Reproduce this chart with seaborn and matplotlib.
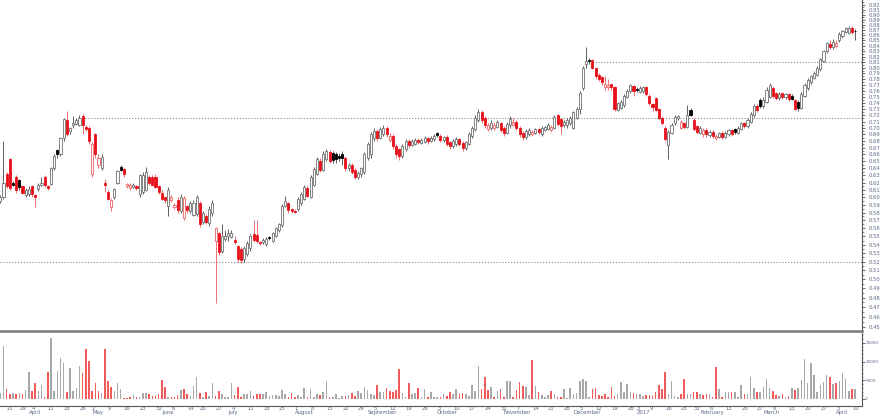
import numpy as np
import pandas as pd
import matplotlib
matplotlib.use("Agg")
import matplotlib.pyplot as plt
from matplotlib.ticker import FixedLocator, FixedFormatter, NullFormatter
import seaborn as sns

# daily bars, 17 Mar 2016 - 11 Apr 2017 (ASX trading days)
opens = [
    0.595, 0.600, 0.632, 0.653, 0.620, 0.628, 0.623, 0.615, 0.603, 0.604,
    0.615, 0.603, 0.611, 0.617, 0.627, 0.615, 0.618, 0.641, 0.666, 0.660,
    0.684, 0.713, 0.695, 0.705, 0.706, 0.705, 0.718, 0.702, 0.700, 0.632,
    0.690, 0.644, 0.641, 0.620, 0.607, 0.587, 0.601, 0.620, 0.642, 0.639,
    0.615, 0.613, 0.614, 0.615, 0.604, 0.607, 0.610, 0.628, 0.627, 0.628,
    0.615, 0.606, 0.600, 0.588, 0.596, 0.587, 0.597, 0.582, 0.573, 0.588,
    0.582, 0.577, 0.578, 0.592, 0.568, 0.575, 0.567, 0.579, 0.545, 0.554,
    0.533, 0.547, 0.551, 0.549, 0.546, 0.538, 0.535, 0.523, 0.529, 0.536,
    0.553, 0.552, 0.543, 0.543, 0.541, 0.549, 0.545, 0.551, 0.558, 0.564,
    0.589, 0.592, 0.584, 0.582, 0.585, 0.592, 0.598, 0.612, 0.601, 0.617,
    0.632, 0.650, 0.638, 0.653, 0.664, 0.662, 0.660, 0.658, 0.660, 0.655,
    0.640, 0.645, 0.637, 0.628, 0.632, 0.635, 0.655, 0.660, 0.685, 0.695,
    0.685, 0.690, 0.700, 0.682, 0.688, 0.672, 0.668, 0.658, 0.668, 0.680,
    0.674, 0.676, 0.682, 0.677, 0.679, 0.684, 0.680, 0.683, 0.692, 0.688,
    0.681, 0.686, 0.678, 0.672, 0.675, 0.683, 0.677, 0.670, 0.676, 0.688,
    0.698, 0.712, 0.725, 0.716, 0.698, 0.700, 0.700, 0.702, 0.708, 0.700,
    0.692, 0.704, 0.705, 0.710, 0.700, 0.692, 0.686, 0.690, 0.690, 0.692,
    0.698, 0.690, 0.697, 0.698, 0.696, 0.700, 0.720, 0.714, 0.704, 0.704,
    0.708, 0.700, 0.716, 0.730, 0.765, 0.806, 0.814, 0.814, 0.800, 0.788,
    0.784, 0.767, 0.767, 0.772, 0.766, 0.729, 0.732, 0.736, 0.750, 0.760,
    0.768, 0.764, 0.758, 0.760, 0.766, 0.752, 0.738, 0.748, 0.730, 0.716,
    0.700, 0.674, 0.692, 0.707, 0.715, 0.700, 0.708, 0.702, 0.729, 0.713,
    0.703, 0.692, 0.690, 0.697, 0.689, 0.694, 0.684, 0.686, 0.692, 0.686,
    0.690, 0.696, 0.698, 0.692, 0.698, 0.708, 0.703, 0.710, 0.720, 0.735,
    0.745, 0.735, 0.742, 0.750, 0.765, 0.756, 0.748, 0.756, 0.749, 0.754,
    0.752, 0.745, 0.742, 0.732, 0.752, 0.765, 0.775, 0.782, 0.788, 0.798,
    0.812, 0.830, 0.843, 0.838, 0.840, 0.850, 0.858, 0.866, 0.865, 0.874,
    0.869,
]
highs = [
    0.603, 0.680, 0.635, 0.655, 0.622, 0.630, 0.625, 0.617, 0.613, 0.615,
    0.617, 0.604, 0.620, 0.628, 0.630, 0.617, 0.642, 0.660, 0.668, 0.686,
    0.716, 0.726, 0.702, 0.718, 0.716, 0.720, 0.722, 0.705, 0.703, 0.678,
    0.692, 0.660, 0.660, 0.625, 0.610, 0.599, 0.613, 0.638, 0.645, 0.641,
    0.620, 0.620, 0.619, 0.617, 0.632, 0.635, 0.642, 0.630, 0.630, 0.632,
    0.617, 0.610, 0.602, 0.614, 0.603, 0.592, 0.600, 0.604, 0.602, 0.590,
    0.595, 0.596, 0.603, 0.595, 0.582, 0.578, 0.588, 0.596, 0.562, 0.556,
    0.565, 0.558, 0.559, 0.558, 0.550, 0.540, 0.537, 0.538, 0.545, 0.553,
    0.570, 0.570, 0.545, 0.548, 0.549, 0.551, 0.556, 0.562, 0.567, 0.591,
    0.602, 0.594, 0.586, 0.584, 0.600, 0.607, 0.616, 0.615, 0.630, 0.642,
    0.656, 0.655, 0.665, 0.668, 0.667, 0.665, 0.663, 0.662, 0.665, 0.658,
    0.648, 0.648, 0.640, 0.636, 0.642, 0.663, 0.678, 0.693, 0.700, 0.698,
    0.702, 0.705, 0.703, 0.692, 0.690, 0.675, 0.670, 0.675, 0.683, 0.683,
    0.683, 0.685, 0.685, 0.684, 0.688, 0.686, 0.688, 0.690, 0.694, 0.690,
    0.688, 0.689, 0.680, 0.683, 0.686, 0.685, 0.680, 0.680, 0.693, 0.703,
    0.720, 0.730, 0.728, 0.718, 0.708, 0.712, 0.710, 0.713, 0.710, 0.703,
    0.710, 0.718, 0.716, 0.712, 0.703, 0.695, 0.698, 0.700, 0.697, 0.700,
    0.700, 0.703, 0.703, 0.707, 0.704, 0.720, 0.722, 0.716, 0.713, 0.715,
    0.718, 0.727, 0.733, 0.760, 0.803, 0.838, 0.818, 0.816, 0.802, 0.790,
    0.786, 0.785, 0.780, 0.774, 0.768, 0.742, 0.744, 0.755, 0.763, 0.772,
    0.770, 0.766, 0.768, 0.768, 0.768, 0.754, 0.740, 0.750, 0.732, 0.718,
    0.703, 0.697, 0.707, 0.720, 0.720, 0.713, 0.710, 0.736, 0.732, 0.716,
    0.705, 0.703, 0.700, 0.700, 0.697, 0.697, 0.690, 0.694, 0.695, 0.695,
    0.699, 0.698, 0.700, 0.703, 0.710, 0.710, 0.715, 0.725, 0.738, 0.738,
    0.748, 0.750, 0.766, 0.773, 0.768, 0.758, 0.758, 0.758, 0.757, 0.757,
    0.755, 0.747, 0.745, 0.758, 0.773, 0.782, 0.788, 0.795, 0.803, 0.818,
    0.833, 0.848, 0.850, 0.852, 0.850, 0.866, 0.871, 0.876, 0.877, 0.877,
    0.872,
]
lows = [
    0.593, 0.598, 0.612, 0.610, 0.615, 0.606, 0.610, 0.604, 0.601, 0.602,
    0.600, 0.587, 0.609, 0.615, 0.614, 0.610, 0.616, 0.638, 0.655, 0.658,
    0.680, 0.688, 0.690, 0.700, 0.704, 0.703, 0.690, 0.695, 0.675, 0.628,
    0.655, 0.640, 0.638, 0.607, 0.596, 0.582, 0.598, 0.618, 0.636, 0.628,
    0.612, 0.610, 0.612, 0.610, 0.600, 0.605, 0.608, 0.617, 0.615, 0.612,
    0.604, 0.596, 0.593, 0.575, 0.594, 0.585, 0.580, 0.580, 0.570, 0.580,
    0.580, 0.575, 0.575, 0.562, 0.566, 0.565, 0.563, 0.576, 0.474, 0.528,
    0.530, 0.544, 0.545, 0.548, 0.541, 0.520, 0.519, 0.520, 0.527, 0.533,
    0.543, 0.542, 0.540, 0.541, 0.539, 0.546, 0.543, 0.549, 0.555, 0.562,
    0.587, 0.580, 0.580, 0.579, 0.582, 0.590, 0.596, 0.600, 0.599, 0.615,
    0.630, 0.635, 0.636, 0.650, 0.648, 0.648, 0.648, 0.650, 0.645, 0.636,
    0.636, 0.632, 0.625, 0.625, 0.628, 0.632, 0.652, 0.655, 0.680, 0.680,
    0.683, 0.688, 0.686, 0.678, 0.668, 0.655, 0.652, 0.655, 0.665, 0.670,
    0.672, 0.674, 0.675, 0.675, 0.677, 0.676, 0.678, 0.680, 0.686, 0.678,
    0.678, 0.673, 0.668, 0.670, 0.672, 0.672, 0.665, 0.667, 0.674, 0.685,
    0.695, 0.710, 0.708, 0.700, 0.695, 0.697, 0.697, 0.700, 0.693, 0.688,
    0.690, 0.700, 0.703, 0.696, 0.686, 0.682, 0.683, 0.687, 0.688, 0.690,
    0.690, 0.687, 0.695, 0.696, 0.694, 0.698, 0.703, 0.690, 0.702, 0.700,
    0.705, 0.698, 0.714, 0.722, 0.762, 0.800, 0.806, 0.797, 0.780, 0.776,
    0.770, 0.762, 0.762, 0.762, 0.726, 0.726, 0.730, 0.733, 0.748, 0.757,
    0.752, 0.758, 0.756, 0.757, 0.752, 0.736, 0.727, 0.726, 0.712, 0.705,
    0.680, 0.653, 0.690, 0.705, 0.712, 0.698, 0.698, 0.700, 0.718, 0.695,
    0.690, 0.690, 0.686, 0.686, 0.686, 0.685, 0.682, 0.684, 0.683, 0.684,
    0.688, 0.688, 0.690, 0.690, 0.696, 0.700, 0.700, 0.708, 0.717, 0.725,
    0.732, 0.732, 0.740, 0.748, 0.748, 0.745, 0.745, 0.746, 0.746, 0.743,
    0.744, 0.728, 0.727, 0.730, 0.750, 0.762, 0.772, 0.780, 0.785, 0.795,
    0.810, 0.826, 0.835, 0.835, 0.838, 0.848, 0.855, 0.864, 0.862, 0.863,
    0.850,
]
closes = [
    0.600, 0.620, 0.615, 0.613, 0.617, 0.610, 0.614, 0.606, 0.610, 0.611,
    0.604, 0.600, 0.617, 0.620, 0.617, 0.612, 0.640, 0.657, 0.660, 0.684,
    0.714, 0.690, 0.700, 0.707, 0.713, 0.716, 0.705, 0.699, 0.680, 0.676,
    0.660, 0.655, 0.656, 0.616, 0.598, 0.597, 0.611, 0.636, 0.638, 0.632,
    0.618, 0.617, 0.617, 0.612, 0.630, 0.631, 0.635, 0.620, 0.617, 0.614,
    0.607, 0.598, 0.596, 0.610, 0.600, 0.590, 0.583, 0.601, 0.599, 0.583,
    0.592, 0.593, 0.600, 0.565, 0.579, 0.568, 0.585, 0.592, 0.560, 0.531,
    0.550, 0.551, 0.554, 0.554, 0.543, 0.523, 0.522, 0.536, 0.542, 0.551,
    0.546, 0.544, 0.542, 0.546, 0.547, 0.548, 0.554, 0.560, 0.565, 0.589,
    0.595, 0.583, 0.582, 0.581, 0.598, 0.605, 0.614, 0.602, 0.627, 0.639,
    0.653, 0.637, 0.660, 0.665, 0.651, 0.652, 0.653, 0.654, 0.655, 0.640,
    0.645, 0.635, 0.628, 0.633, 0.640, 0.660, 0.675, 0.690, 0.695, 0.685,
    0.698, 0.700, 0.690, 0.688, 0.672, 0.660, 0.658, 0.672, 0.680, 0.674,
    0.680, 0.682, 0.678, 0.682, 0.684, 0.680, 0.685, 0.688, 0.689, 0.682,
    0.686, 0.676, 0.672, 0.680, 0.683, 0.676, 0.670, 0.678, 0.690, 0.700,
    0.716, 0.725, 0.712, 0.705, 0.704, 0.708, 0.705, 0.710, 0.697, 0.692,
    0.706, 0.714, 0.710, 0.700, 0.690, 0.686, 0.695, 0.697, 0.694, 0.698,
    0.693, 0.700, 0.701, 0.704, 0.702, 0.717, 0.706, 0.703, 0.710, 0.712,
    0.715, 0.725, 0.730, 0.757, 0.800, 0.812, 0.812, 0.800, 0.785, 0.781,
    0.775, 0.772, 0.770, 0.766, 0.730, 0.740, 0.741, 0.752, 0.760, 0.770,
    0.760, 0.762, 0.765, 0.766, 0.755, 0.739, 0.734, 0.729, 0.715, 0.708,
    0.683, 0.694, 0.704, 0.717, 0.718, 0.710, 0.702, 0.720, 0.721, 0.699,
    0.694, 0.700, 0.696, 0.690, 0.694, 0.688, 0.687, 0.692, 0.686, 0.692,
    0.696, 0.690, 0.694, 0.700, 0.708, 0.703, 0.712, 0.722, 0.735, 0.728,
    0.735, 0.745, 0.762, 0.770, 0.752, 0.748, 0.755, 0.750, 0.754, 0.746,
    0.747, 0.730, 0.731, 0.755, 0.770, 0.778, 0.785, 0.790, 0.800, 0.815,
    0.830, 0.845, 0.838, 0.848, 0.845, 0.862, 0.868, 0.873, 0.874, 0.867,
    0.868,
]
volume = [
    1690, 14150, 2580, 1250, 1510, 1335, 1510, 1335, 2500, 7300,
    2225, 4180, 2225, 3740, 620, 7300, 16380, 2225, 7480, 10860,
    9700, 1960, 8190, 2225, 2850, 8810, 7030, 13350, 10150, 2225,
    4180, 2225, 1690, 13350, 4900, 3115, 2225, 4270, 2580, 355,
    355, 620, 1070, 620, 445, 1690, 1690, 1250, 710, 710,
    1250, 5070, 3115, 620, 620, 620, 1070, 2400, 2580, 1335,
    800, 3560, 5790, 1690, 620, 1870, 900, 4180, 800, 2225,
    1250, 620, 445, 4180, 1070, 3290, 620, 1335, 1250, 2225,
    800, 1400, 1400, 1400, 1960, 890, 980, 980, 700, 2400,
    1335, 600, 1500, 620, 1150,
    620, 2850, 620, 2670, 620, 1250, 1070, 1960, 4900, 620,
    445, 1250, 200, 800, 800, 1070, 1600, 890, 2225, 1690,
    3115, 2400, 1250, 1070, 3830, 1960, 1960, 3000, 2225, 1960,
    2400, 8100, 1690, 620, 4180, 1400, 1690, 3000, 620, 2580,
    620, 1960, 620, 445, 620, 1250, 890, 1960, 1400, 2580,
    1250, 1690, 1250, 890, 3830, 2225, 8900, 2580, 6000, 2400,
    3290, 620, 2225, 2580, 620, 4900, 4900, 620, 2400, 4630,
    3470, 3290, 1070, 10400, 3560, 1960, 1070, 620, 1070, 2225,
    1250, 620, 620, 2670, 200, 3000, 1335, 1600, 4900, 5440,
    4900, 620, 2580, 2850, 1070,
    890, 1250, 620, 3115, 800, 1250, 4450, 1780, 4000, 1780,
    1510, 1250, 1335, 890, 1070, 1160, 890, 1780, 3740, 2670,
    7120, 1335, 4900, 710, 620, 1250, 5250, 1335, 1335, 1780,
    1960, 1250, 1070, 1250, 1335, 620, 8630, 2670, 620, 1780,
    1780, 1960, 1960, 620, 3740, 1250, 1335, 5960, 2850, 1960,
    1960, 3115, 5250, 2850, 2140, 1070, 890, 1250, 620, 800,
    2850, 2400, 2850, 5070, 10600, 4180, 9700, 6400, 1870, 3740,
    4630, 6320, 5960, 4000, 4360, 4900, 6850, 5340, 2225, 2580,
    2580,
]
holidays = ["2016-03-25", "2016-03-28", "2016-04-25", "2016-06-13",
            "2016-12-26", "2016-12-27", "2017-01-02", "2017-01-26"]
# horizontal support / resistance levels and the day each one starts
level_prices = [0.81, 0.715, 0.52]
level_starts = ["2016-12-09", "2016-04-26", "2016-03-17"]

days = pd.bdate_range("2016-03-17", "2017-04-11")
days = days[~days.isin(pd.to_datetime(holidays))]

df = pd.DataFrame({"open": opens, "high": highs, "low": lows,
                   "close": closes, "volume": volume})
df["bar"] = np.arange(len(df))
df["prev"] = df["close"].shift(1).fillna(df["open"])
df["down"] = df["close"] < df["prev"]
df["hollow"] = df["close"] > df["open"]

face, edge, wick = [], [], []
for d, h in zip(df["down"], df["hollow"]):
    if d:
        edge.append("#f06060" if h else "#e8101a")
        face.append("white" if h else "#e8101a")
        wick.append("#f07070")
    else:
        edge.append("#707070" if h else "black")
        face.append("white" if h else "black")
        wick.append("#606060")

sns.set_style("white")
plt.rcParams["font.family"] = ["DejaVu Sans"]

fig = plt.figure(figsize=(8.8, 4.15), dpi=100)
ax = fig.add_axes([0, 84 / 415, 862 / 880, 331 / 415])
axv = fig.add_axes([0, 9 / 415, 862 / 880, 73 / 415])
xlim = (-0.104, 272.16)

# price candles
ax.vlines(df["bar"], df["low"], df["high"], colors=wick, linewidth=0.7, zorder=1)
body_lo = df[["open", "close"]].min(axis=1)
body_h = (df["close"] - df["open"]).abs().clip(lower=0.0008)
ax.bar(df["bar"], body_h, bottom=body_lo, width=0.66, color=face,
       edgecolor=edge, linewidth=0.6, zorder=2)

for p, s in zip(level_prices, level_starts):
    x0 = days.get_loc(pd.Timestamp(s))
    if x0 == 0:
        x0 = xlim[0]
    ax.hlines(p, x0, xlim[1], colors="#8a8a8a", linestyles=(0, (1.3, 1.7)),
              linewidth=0.7, zorder=0)

ax.set_yscale("log")
ax.set_ylim(0.4458, 0.930)
ax.set_xlim(*xlim)
price_ticks = [round(0.45 + 0.01 * k, 2) for k in range(48)]
ax.yaxis.set_major_locator(FixedLocator(price_ticks))
ax.yaxis.set_major_formatter(FixedFormatter([f"{t:.2f}" for t in price_ticks]))
ax.yaxis.set_minor_locator(FixedLocator([t + 0.005 for t in price_ticks]))
ax.yaxis.set_minor_formatter(NullFormatter())
ax.yaxis.tick_right()
ax.tick_params(axis="y", which="major", length=2.5, width=0.6, color="#555555",
               labelsize=3.8, pad=2, labelcolor="#5a6886")
ax.tick_params(axis="y", which="minor", length=1.3, width=0.5, color="#555555")
ax.tick_params(axis="x", bottom=False, labelbottom=False)
for side in ["left", "top"]:
    ax.spines[side].set_visible(False)
ax.spines["right"].set_color("#555555")
ax.spines["right"].set_linewidth(0.8)
ax.spines["bottom"].set_color("#7a7a7a")
ax.spines["bottom"].set_linewidth(1.8)

# volume
sns.barplot(data=df, x="bar", y="volume", hue="down",
            palette={True: "#f25a5a", False: "#a8a8a8"}, native_scale=True,
            dodge=False, width=0.5, saturation=1, errorbar=None, legend=False,
            linewidth=0, ax=axv)
axv.set_xlim(*xlim)
axv.set_ylim(-1870, 17620)
axv.set_xlabel("")
axv.set_ylabel("")
axv.yaxis.tick_right()
axv.yaxis.set_major_locator(FixedLocator([0, 5000, 10000, 15000]))
axv.yaxis.set_major_formatter(FixedFormatter(["0", "5000", "10000", "15000"]))
axv.yaxis.set_minor_locator(FixedLocator(list(range(1000, 17001, 1000))))
axv.yaxis.set_minor_formatter(NullFormatter())
axv.tick_params(axis="y", which="major", length=1.8, width=0.6, color="#555555",
                labelsize=3.0, pad=0.5, labelcolor="#5a6886")
axv.tick_params(axis="y", which="minor", length=1.0, width=0.5, color="#555555")

# date axis: weekly ticks with day numbers, month ticks with month names
week_start = [i for i in range(1, len(days)) if days[i].weekday() < days[i - 1].weekday()]
month_start = [i for i in range(1, len(days)) if days[i].month != days[i - 1].month]
month_names = ["2017" if days[i].month == 1 else days[i].strftime("%B") for i in month_start]
axv.xaxis.set_major_locator(FixedLocator(week_start))
axv.xaxis.set_major_formatter(FixedFormatter([str(days[i].day) for i in week_start]))
axv.xaxis.set_minor_locator(FixedLocator(month_start))
axv.xaxis.set_minor_formatter(FixedFormatter(month_names))
axv.xaxis.remove_overlapping_locs = False
axv.tick_params(axis="x", which="major", length=2.4, width=0.6, color="#555555",
                labelsize=3.8, pad=-2.2, labelcolor="#5a6886")
axv.tick_params(axis="x", which="minor", length=7, width=0.6, color="#555555",
                labelsize=3.8, pad=-4.3, labelcolor="#5a6886")
for lab in axv.get_xticklabels() + axv.get_xticklabels(minor=True):
    lab.set_horizontalalignment("left")
for side in ["left", "top"]:
    axv.spines[side].set_visible(False)
for side in ["right", "bottom"]:
    axv.spines[side].set_color("#555555")
    axv.spines[side].set_linewidth(0.8)

fig.savefig("out.png", dpi=100)
